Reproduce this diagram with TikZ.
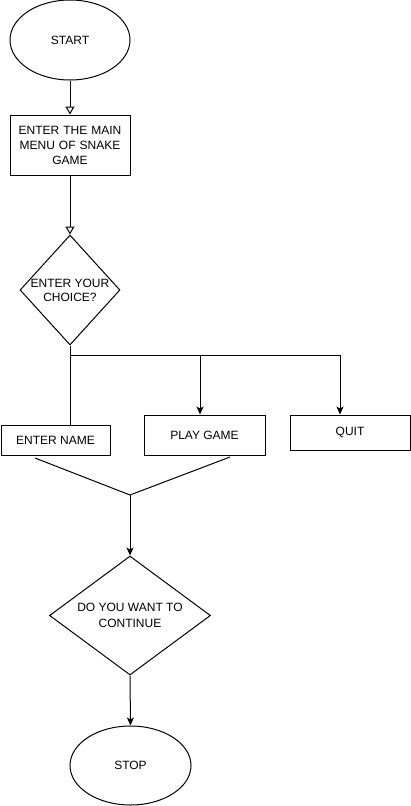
\documentclass[tikz,border=0pt]{standalone}
\usepackage{fontspec}
\setmainfont{Liberation Sans}
\usetikzlibrary{shapes.geometric,arrows.meta}
\begin{document}
\begin{tikzpicture}[x=1pt,y=-1pt,
  every node/.style={font=\fontsize{12}{15}\selectfont, text=black},
  term/.style={draw, line width=1pt, ellipse, inner sep=0pt},
  boxnode/.style={draw, line width=1pt, rectangle, inner sep=0pt, align=center},
  decision/.style={draw, line width=1pt, diamond, inner sep=0pt},
  conn/.style={line width=1pt},
  openarrow/.style={conn, -{Triangle[open, length=8pt, width=9pt]}},
  fillarrow/.style={conn, -{Stealth[length=8pt, width=7pt, inset=2pt]}}
]
\useasboundingbox[fill=white] (0,0) rectangle (411,806);

\node[term, minimum width=120pt, minimum height=80pt] (start) at (70,40) {START};
\node[boxnode, minimum width=120pt, minimum height=60pt, text width=115pt] (menu) at (70,145) {ENTER THE MAIN\\MENU OF SNAKE\\GAME};
\node[decision, minimum width=100pt, minimum height=110pt,
      label={[align=center, font=\fontsize{12}{14}\selectfont]center:ENTER YOUR\\CHOICE?}] (choice) at (70,290) {};

\node[boxnode, minimum width=109pt, minimum height=30pt] (name) at (55.5,440) {ENTER NAME};
\node[boxnode, minimum width=121pt, minimum height=40pt] (play) at (204.5,435) {PLAY GAME};
\node[boxnode, minimum width=120pt, minimum height=35pt] (quit) at (350,432.5) {QUIT};

\node[decision, minimum width=161pt, minimum height=119pt,
      label={[align=center, font=\fontsize{12}{16}\selectfont]center:DO YOU WANT TO\\CONTINUE}] (cont) at (130,615.5) {};
\node[term, minimum width=121pt, minimum height=79pt] (stop) at (130.5,765.5) {STOP};

\coordinate (bus) at (70,355);
\coordinate (a1) at (35,458);
\coordinate (a2) at (230,457);
\coordinate (m) at (130,495);

\draw[openarrow] (start.south) -- (menu.north);
\draw[openarrow] (menu.south) -- (choice.north);
\draw[conn] (choice.south) -- (choice.south |- name.north);
\draw[conn] (bus) -- (340,355);
\draw[fillarrow] (200,355) -- (play.north -| 200,0);
\draw[fillarrow] (340,355) -- (quit.north -| 340,0);
\draw[conn] (a1) -- (m) -- (a2);
\draw[fillarrow] (m) -- (cont.north);
\draw[fillarrow] (cont.south) -- (stop.north);
\end{tikzpicture}
\end{document}
